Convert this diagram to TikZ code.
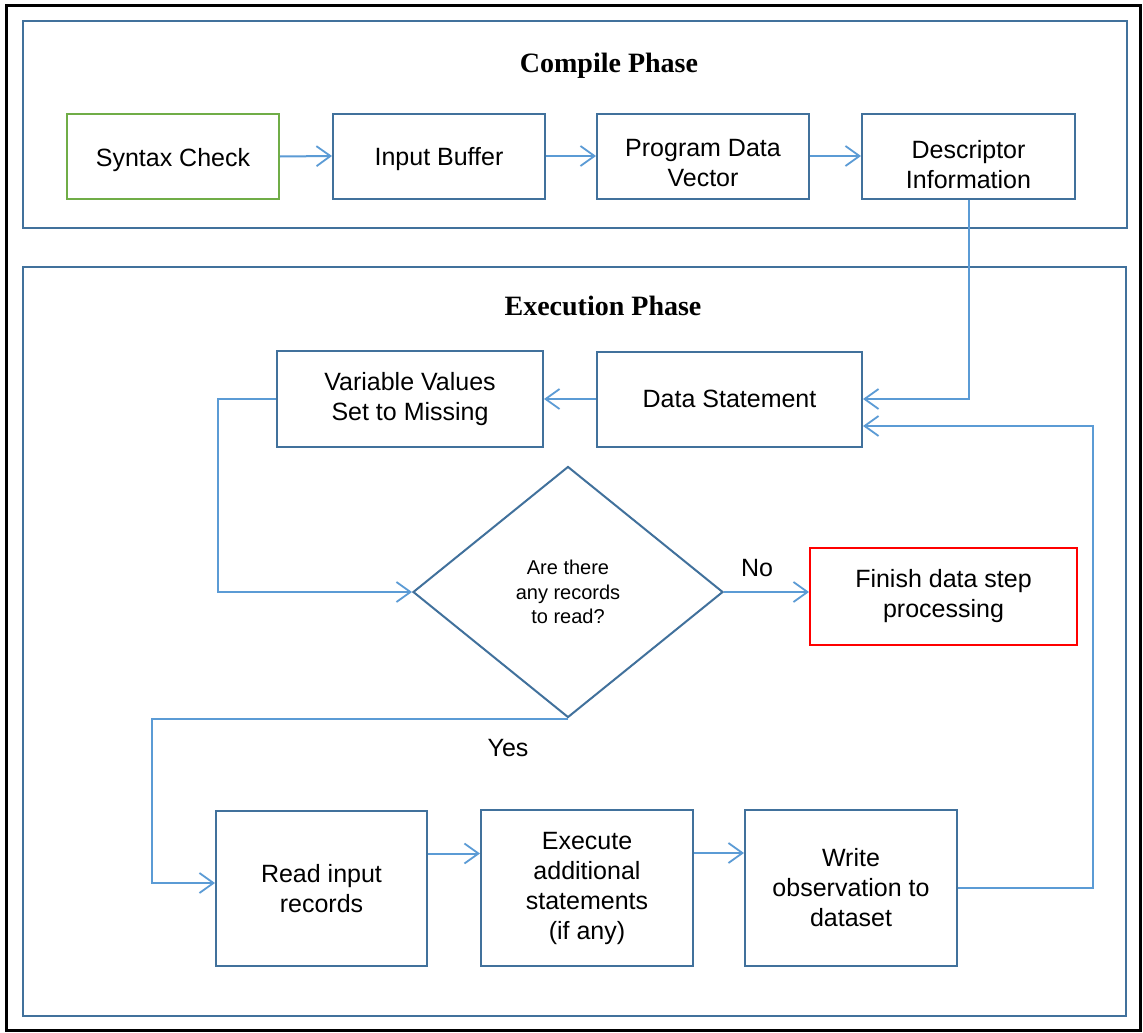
\documentclass[tikz,border=0pt]{standalone}
\usepackage{fontspec}
\setmainfont{Liberation Sans}
\newfontfamily\headfont{Liberation Serif}
\usetikzlibrary{arrows.meta,shapes.geometric,calc}

\definecolor{boxblue}{HTML}{41719C}
\definecolor{linkblue}{HTML}{5B9BD5}
\definecolor{okgreen}{HTML}{70AD47}
\definecolor{stopred}{HTML}{FF0000}

% invisible strut that makes a first line taller, lowering the text block
\newcommand{\topstrut}[1]{\rule{0pt}{#1}}

\tikzset{
  procbox/.style={draw=boxblue, line width=2pt, align=center, inner sep=0pt,
    font=\fontsize{25}{30}\selectfont, text=black},
  phasebox/.style={draw=boxblue, line width=2pt},
  decision/.style={draw=boxblue, line width=2pt, shape=diamond, align=center,
    inner sep=0pt, minimum width=310pt, minimum height=251pt,
    font=\fontsize{20}{24.5}\selectfont, text=black},
  conn/.style={draw=linkblue, line width=2pt,
    -{Straight Barb[length=14pt,width=20pt,line width=1.8pt]}},
  phasetitle/.style={font=\headfont\bfseries\fontsize{28}{32}\selectfont},
  branch/.style={font=\fontsize{25}{30}\selectfont, text=black}
}

\begin{document}
\begin{tikzpicture}[x=1pt,y=-1pt]
\useasboundingbox (0,0) rectangle (1143,1033);
\fill[white] (0,0) rectangle (1143,1033);

% outer frame
\draw[black, line width=3pt] (6,6) rectangle (1140,1030);

% phase panels
\draw[phasebox] (23,21) rectangle (1127,228);
\draw[phasebox] (23,267) rectangle (1126,1016);
\node[phasetitle] (ctitle) at (609,66) {Compile Phase};
\node[phasetitle] (etitle) at (603,306) {Execution Phase};

% compile phase steps
\node[procbox, draw=okgreen, minimum width=212pt, minimum height=85pt] (syn) at (173,156.5) {\topstrut{25pt}Syntax Check};
\node[procbox, minimum width=212pt, minimum height=85pt] (inb) at (439,156) {\topstrut{25pt}Input Buffer};
\node[procbox, minimum width=212pt, minimum height=85pt] (pdv) at (703,156) {\topstrut{32pt}Program Data\\Vector};
\node[procbox, minimum width=213pt, minimum height=85pt] (desc) at (968.5,156) {\topstrut{35pt}Descriptor\\Information};

% execution phase steps
\node[procbox, minimum width=265pt, minimum height=95pt] (data) at (729.5,399) {Data Statement};
\node[procbox, minimum width=266pt, minimum height=96pt] (var) at (410,399) {Variable Values\\Set to Missing};
\node[decision] (dia) at (568,592) {Are there\\any records\\to read?};
\node[procbox, draw=stopred, minimum width=267pt, minimum height=97pt] (fin) at (943.5,596.5) {Finish data step\\processing};
\node[procbox, minimum width=211pt, minimum height=155pt] (read) at (321.5,888.5) {Read input\\records};
\node[procbox, minimum width=212pt, minimum height=156pt] (exec) at (587,888) {Execute\\additional\\statements\\(if any)};
\node[procbox, minimum width=212pt, minimum height=156pt] (write) at (851,888) {Write\\observation to\\dataset};

% bend points of the loops
\coordinate (rloop) at (1093,426);
\coordinate (lloop) at (218,592);
\coordinate (yloop) at (152,883);

% connectors
\draw[conn] (syn.east) -- (inb.west);
\draw[conn] (inb.east) -- (pdv.west);
\draw[conn] (pdv.east) -- (desc.west);
\draw[conn] (desc.south) |- (data.east);
\draw[conn] (write.east) -| (rloop) -- (rloop -| data.east);
\draw[conn] (data.west) -- (var.east);
\draw[conn] (var.west) -| (lloop) -- (dia.west);
\draw[conn] (dia.east) -- (dia.east -| fin.west);
\draw[conn] (dia.south) -| (yloop) -- (yloop -| read.west);
\draw[conn] ([yshift=35pt]read.east) -- ([yshift=35pt]read.east -| exec.west);
\draw[conn] ([yshift=35pt]exec.east) -- ([yshift=35pt]exec.east -| write.west);

% branch labels
\node[branch] (nolbl) at (757,568) {No};
\node[branch] (yeslbl) at (508,748) {Yes};
\end{tikzpicture}
\end{document}
